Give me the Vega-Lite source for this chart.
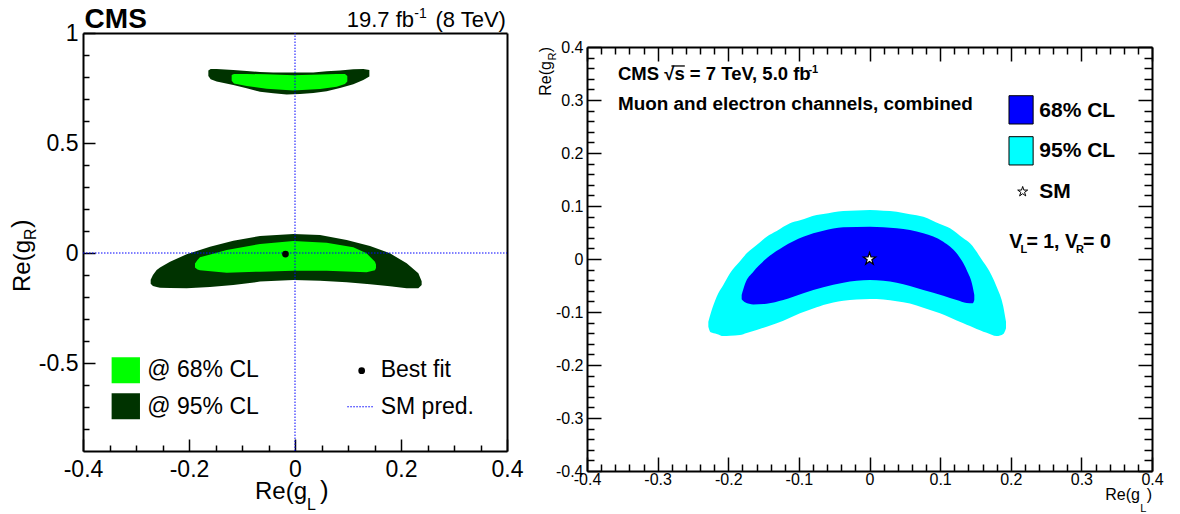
{
"$schema": "https://vega.github.io/schema/vega-lite/v6.json",
"width": 1180, "height": 514, "autosize": "none", "padding": 0, "background": "white",
"config": {"view": {"stroke": null}, "axis": {"grid": false, "labelFlush": false, "labelOverlap": false, "domainColor": "black", "tickColor": "black", "labelColor": "black", "labelFont": "Liberation Sans", "title": null, "zindex": 1}},
"data": {"values": [{}]},
"datasets": {
"left": [
{"r":"u95","x":-0.1635,"lo":0.804,"hi":0.829},{"r":"u95","x":-0.1591,"lo":0.790,"hi":0.836},{"r":"u95","x":-0.1478,"lo":0.779,"hi":0.836},{"r":"u95","x":-0.1164,"lo":0.764,"hi":0.832},{"r":"u95","x":-0.0912,"lo":0.749,"hi":0.827},{"r":"u95","x":-0.066,"lo":0.733,"hi":0.823},{"r":"u95","x":-0.0409,"lo":0.726,"hi":0.821},{"r":"u95","x":-0.0157,"lo":0.721,"hi":0.820},{"r":"u95","x":0.0094,"lo":0.723,"hi":0.820},{"r":"u95","x":0.0346,"lo":0.727,"hi":0.821},{"r":"u95","x":0.0597,"lo":0.735,"hi":0.826},{"r":"u95","x":0.0849,"lo":0.750,"hi":0.830},{"r":"u95","x":0.11,"lo":0.767,"hi":0.835},{"r":"u95","x":0.1289,"lo":0.786,"hi":0.836},{"r":"u95","x":0.1403,"lo":0.802,"hi":0.832},
{"r":"u68","x":-0.1195,"lo":0.783,"hi":0.809},{"r":"u68","x":-0.1151,"lo":0.771,"hi":0.814},{"r":"u68","x":-0.0912,"lo":0.759,"hi":0.814},{"r":"u68","x":-0.0535,"lo":0.747,"hi":0.812},{"r":"u68","x":-0.0031,"lo":0.739,"hi":0.808},{"r":"u68","x":0.0472,"lo":0.746,"hi":0.811},{"r":"u68","x":0.0786,"lo":0.756,"hi":0.814},{"r":"u68","x":0.0943,"lo":0.768,"hi":0.814},{"r":"u68","x":0.0987,"lo":0.779,"hi":0.805},
{"r":"l95","x":-0.2723,"lo":-0.140,"hi":-0.122},{"r":"l95","x":-0.268,"lo":-0.150,"hi":-0.100},{"r":"l95","x":-0.261,"lo":-0.155,"hi":-0.0773},{"r":"l95","x":-0.2547,"lo":-0.1576,"hi":-0.066},{"r":"l95","x":-0.2358,"lo":-0.159,"hi":-0.0394},{"r":"l95","x":-0.2044,"lo":-0.160,"hi":-0.006},{"r":"l95","x":-0.1604,"lo":-0.155,"hi":0.0288},{"r":"l95","x":-0.1164,"lo":-0.146,"hi":0.056},{"r":"l95","x":-0.066,"lo":-0.130,"hi":0.0773},{"r":"l95","x":-0.0031,"lo":-0.1227,"hi":0.0864},{"r":"l95","x":0.0472,"lo":-0.126,"hi":0.0818},{"r":"l95","x":0.0975,"lo":-0.133,"hi":0.0591},{"r":"l95","x":0.1415,"lo":-0.142,"hi":0.0318},{"r":"l95","x":0.1792,"lo":-0.151,"hi":-0.0015},{"r":"l95","x":0.2107,"lo":-0.160,"hi":-0.047},{"r":"l95","x":0.2327,"lo":-0.160,"hi":-0.0924},{"r":"l95","x":0.239,"lo":-0.145,"hi":-0.128},
{"r":"l68","x":-0.1887,"lo":-0.066,"hi":-0.048},{"r":"l68","x":-0.184,"lo":-0.075,"hi":-0.032},{"r":"l68","x":-0.1793,"lo":-0.078,"hi":-0.0197},{"r":"l68","x":-0.1289,"lo":-0.0894,"hi":0.0136},{"r":"l68","x":-0.066,"lo":-0.0848,"hi":0.0409},{"r":"l68","x":-0.0031,"lo":-0.0803,"hi":0.0545},{"r":"l68","x":0.0597,"lo":-0.0803,"hi":0.047},{"r":"l68","x":0.11,"lo":-0.085,"hi":0.0258},{"r":"l68","x":0.135,"lo":-0.088,"hi":-0.0015},{"r":"l68","x":0.1509,"lo":-0.078,"hi":-0.0394},{"r":"l68","x":0.1528,"lo":-0.068,"hi":-0.052}
],
"right": [
{"r":"r95","x":-0.2282,"lo":-0.1277,"hi":-0.1183},{"r":"r95","x":-0.2249,"lo":-0.1384,"hi":-0.1028},{"r":"r95","x":-0.2164,"lo":-0.1413,"hi":-0.0711},{"r":"r95","x":-0.207,"lo":-0.1453,"hi":-0.0491},{"r":"r95","x":-0.1975,"lo":-0.1447,"hi":-0.027},{"r":"r95","x":-0.1834,"lo":-0.1434,"hi":-0.0044},{"r":"r95","x":-0.1739,"lo":-0.1396,"hi":0.0107},{"r":"r95","x":-0.1598,"lo":-0.134,"hi":0.0264},{"r":"r95","x":-0.1456,"lo":-0.1277,"hi":0.0421},{"r":"r95","x":-0.1314,"lo":-0.1214,"hi":0.0528},{"r":"r95","x":-0.1126,"lo":-0.1107,"hi":0.0673},{"r":"r95","x":-0.0984,"lo":-0.1025,"hi":0.073},{"r":"r95","x":-0.0748,"lo":-0.0912,"hi":0.083},{"r":"r95","x":-0.0654,"lo":-0.0868,"hi":0.0849},{"r":"r95","x":-0.0371,"lo":-0.0786,"hi":0.0906},{"r":"r95","x":-0.0182,"lo":-0.0764,"hi":0.0915},{"r":"r95","x":0.0007,"lo":-0.0755,"hi":0.0925},{"r":"r95","x":0.0196,"lo":-0.0764,"hi":0.0909},{"r":"r95","x":0.0385,"lo":-0.0796,"hi":0.0893},{"r":"r95","x":0.0573,"lo":-0.0841,"hi":0.0846},{"r":"r95","x":0.0762,"lo":-0.0918,"hi":0.0799},{"r":"r95","x":0.0998,"lo":-0.1025,"hi":0.066},{"r":"r95","x":0.114,"lo":-0.1106,"hi":0.0579},{"r":"r95","x":0.1329,"lo":-0.1214,"hi":0.039},{"r":"r95","x":0.1423,"lo":-0.1266,"hi":0.0296},{"r":"r95","x":0.1612,"lo":-0.1371,"hi":-0.0057},{"r":"r95","x":0.1659,"lo":-0.139,"hi":-0.0145},{"r":"r95","x":0.18,"lo":-0.1453,"hi":-0.0522},{"r":"r95","x":0.1895,"lo":-0.1415,"hi":-0.0899},{"r":"r95","x":0.1933,"lo":-0.1308,"hi":-0.1183},
{"r":"r68","x":-0.181,"lo":-0.0761,"hi":-0.0679},{"r":"r68","x":-0.1763,"lo":-0.0818,"hi":-0.0472},{"r":"r68","x":-0.1645,"lo":-0.0857,"hi":-0.024},{"r":"r68","x":-0.1456,"lo":-0.0843,"hi":0.0013},{"r":"r68","x":-0.122,"lo":-0.0774,"hi":0.0233},{"r":"r68","x":-0.0937,"lo":-0.0648,"hi":0.0421},{"r":"r68","x":-0.0654,"lo":-0.0535,"hi":0.0535},{"r":"r68","x":-0.0371,"lo":-0.0447,"hi":0.0597},{"r":"r68","x":0.0007,"lo":-0.0396,"hi":0.061},{"r":"r68","x":0.0385,"lo":-0.0447,"hi":0.0579},{"r":"r68","x":0.0762,"lo":-0.0585,"hi":0.0484},{"r":"r68","x":0.1045,"lo":-0.0692,"hi":0.0327},{"r":"r68","x":0.1234,"lo":-0.0774,"hi":0.0107},{"r":"r68","x":0.1376,"lo":-0.083,"hi":-0.0208},{"r":"r68","x":0.1461,"lo":-0.0837,"hi":-0.0522},{"r":"r68","x":0.1484,"lo":-0.0774,"hi":-0.0679}
]
},
"resolve": {"scale": {"x": "independent", "y": "independent"}, "axis": {"x": "independent", "y": "independent"}},
"layer": [
{
"resolve": {"axis": {"x": "independent", "y": "independent"}},
"layer": [
{"mark": {"type": "point", "opacity": 0},
 "encoding": {
  "x": {"datum": 0, "type": "quantitative", "scale": {"domain": [-0.4, 0.4], "range": [83, 507], "nice": false, "zero": false},
    "axis": {"orient": "bottom", "offset": -63, "values": [-0.4, -0.2, 0, 0.2, 0.4], "tickSize": -12, "tickWidth": 1.5, "labelPadding": 19, "labelFontSize": 23, "domainWidth": 2, "labelExpr": "(datum.value < 0 ? '-' : '') + format(abs(datum.value), '~g')"}},
  "y": {"datum": 0, "type": "quantitative", "scale": {"domain": [-0.9, 1], "range": [451, 33], "nice": false, "zero": false},
    "axis": {"orient": "left", "offset": -83, "values": [-0.5, 0, 0.5, 1], "tickSize": -12, "tickWidth": 1.5, "labelPadding": 17, "labelFontSize": 23, "domainWidth": 2, "labelExpr": "(datum.value < 0 ? '-' : '') + format(abs(datum.value), '~g')"}}}},
{"mark": {"type": "point", "opacity": 0},
 "encoding": {
  "x": {"datum": 0, "type": "quantitative", "axis": {"orient": "bottom", "offset": -63, "values": [-0.35, -0.3, -0.25, -0.15, -0.1, -0.05, 0.05, 0.1, 0.15, 0.25, 0.3, 0.35], "tickSize": -6, "tickWidth": 1.5, "labels": false, "domain": false}},
  "y": {"datum": 0, "type": "quantitative", "axis": {"orient": "left", "offset": -83, "values": [-0.8, -0.7, -0.6, -0.4, -0.3, -0.2, -0.1, 0.1, 0.2, 0.3, 0.4, 0.6, 0.7, 0.8, 0.9], "tickSize": -6, "tickWidth": 1.5, "labels": false, "domain": false}}}},
{"mark": {"type": "point", "opacity": 0},
 "encoding": {
  "x": {"datum": 0, "type": "quantitative", "axis": {"orient": "top", "offset": -33, "ticks": false, "labels": false, "domainWidth": 2}},
  "y": {"datum": 0, "type": "quantitative", "axis": {"orient": "right", "offset": -673, "ticks": false, "labels": false, "domainWidth": 2}}}},
{"data": {"name": "left"}, "transform": [{"filter": "datum.r == 'u95'"}], "mark": {"type": "area", "color": "#003300", "opacity": 1},
 "encoding": {"x": {"field": "x", "type": "quantitative", "axis": null}, "y": {"field": "lo", "type": "quantitative", "axis": null, "stack": null}, "y2": {"field": "hi"}}},
{"data": {"name": "left"}, "transform": [{"filter": "datum.r == 'l95'"}], "mark": {"type": "area", "color": "#003300", "opacity": 1},
 "encoding": {"x": {"field": "x", "type": "quantitative", "axis": null}, "y": {"field": "lo", "type": "quantitative", "axis": null, "stack": null}, "y2": {"field": "hi"}}},
{"data": {"name": "left"}, "transform": [{"filter": "datum.r == 'u68'"}], "mark": {"type": "area", "color": "#00ff00", "opacity": 1},
 "encoding": {"x": {"field": "x", "type": "quantitative", "axis": null}, "y": {"field": "lo", "type": "quantitative", "axis": null, "stack": null}, "y2": {"field": "hi"}}},
{"data": {"name": "left"}, "transform": [{"filter": "datum.r == 'l68'"}], "mark": {"type": "area", "color": "#00ff00", "opacity": 1},
 "encoding": {"x": {"field": "x", "type": "quantitative", "axis": null}, "y": {"field": "lo", "type": "quantitative", "axis": null, "stack": null}, "y2": {"field": "hi"}}},
{"mark": {"type": "rule", "color": "#0000ff", "strokeDash": [1.5, 1.5], "strokeWidth": 1},
 "encoding": {"x": {"datum": 0, "axis": null}, "y": {"datum": -0.9, "axis": null}, "y2": {"datum": 1}}},
{"mark": {"type": "rule", "color": "#0000ff", "strokeDash": [1.5, 1.5], "strokeWidth": 1},
 "encoding": {"y": {"datum": 0, "axis": null}, "x": {"datum": -0.4, "axis": null}, "x2": {"datum": 0.4}}},
{"mark": {"type": "point", "filled": true, "color": "black", "opacity": 1, "size": 45},
 "encoding": {"x": {"datum": -0.018, "axis": null}, "y": {"datum": -0.005, "axis": null}}},
{"mark": {"type": "rect", "color": "#00ff00"},
 "encoding": {"x": {"datum": -0.346, "axis": null}, "x2": {"datum": -0.2925}, "y": {"datum": -0.474, "axis": null}, "y2": {"datum": -0.592}}},
{"mark": {"type": "rect", "color": "#003300"},
 "encoding": {"x": {"datum": -0.346, "axis": null}, "x2": {"datum": -0.2925}, "y": {"datum": -0.638, "axis": null}, "y2": {"datum": -0.756}}},
{"mark": {"type": "text", "font": "Liberation Sans", "fontSize": 23, "align": "left", "baseline": "middle", "color": "black"},
 "encoding": {"x": {"datum": -0.2787, "axis": null}, "y": {"datum": -0.532, "axis": null}, "text": {"value": "@ 68% CL"}}},
{"mark": {"type": "text", "font": "Liberation Sans", "fontSize": 23, "align": "left", "baseline": "middle", "color": "black"},
 "encoding": {"x": {"datum": -0.2787, "axis": null}, "y": {"datum": -0.699, "axis": null}, "text": {"value": "@ 95% CL"}}},
{"mark": {"type": "point", "filled": true, "color": "black", "opacity": 1, "size": 45},
 "encoding": {"x": {"datum": 0.1258, "axis": null}, "y": {"datum": -0.535, "axis": null}}},
{"mark": {"type": "rule", "color": "#0000ff", "strokeDash": [1.5, 1.5], "strokeWidth": 1},
 "encoding": {"y": {"datum": -0.699, "axis": null}, "x": {"datum": 0.0987, "axis": null}, "x2": {"datum": 0.149}}},
{"mark": {"type": "text", "font": "Liberation Sans", "fontSize": 23, "align": "left", "baseline": "middle", "color": "black"},
 "encoding": {"x": {"datum": 0.1617, "axis": null}, "y": {"datum": -0.532, "axis": null}, "text": {"value": "Best fit"}}},
{"mark": {"type": "text", "font": "Liberation Sans", "fontSize": 23, "align": "left", "baseline": "middle", "color": "black"},
 "encoding": {"x": {"datum": 0.1617, "axis": null}, "y": {"datum": -0.699, "axis": null}, "text": {"value": "SM pred."}}},
{"mark": {"type": "text", "font": "Liberation Sans", "fontSize": 28, "fontWeight": "bold", "align": "left", "baseline": "alphabetic", "color": "black"},
 "encoding": {"x": {"datum": -0.397, "axis": null}, "y": {"datum": 1.0214, "axis": null}, "text": {"value": "CMS"}}},
{"mark": {"type": "text", "font": "Liberation Sans", "fontSize": 22, "align": "right", "baseline": "alphabetic", "color": "black"},
 "encoding": {"x": {"datum": 0.398, "axis": null}, "y": {"datum": 1.027, "axis": null}, "text": {"value": "(8 TeV)"}}},
{"mark": {"type": "text", "font": "Liberation Sans", "fontSize": 14, "align": "right", "baseline": "alphabetic", "color": "black"},
 "encoding": {"x": {"datum": 0.2485, "axis": null}, "y": {"datum": 1.068, "axis": null}, "text": {"value": "-1"}}},
{"mark": {"type": "text", "font": "Liberation Sans", "fontSize": 22, "align": "right", "baseline": "alphabetic", "color": "black"},
 "encoding": {"x": {"datum": 0.2245, "axis": null}, "y": {"datum": 1.027, "axis": null}, "text": {"value": "19.7 fb"}}},
{"mark": {"type": "text", "font": "Liberation Sans", "fontSize": 24, "align": "left", "baseline": "alphabetic", "color": "black"},
 "encoding": {"x": {"datum": -0.0755, "axis": null}, "y": {"datum": -1.1182, "axis": null}, "text": {"value": "Re(g"}}},
{"mark": {"type": "text", "font": "Liberation Sans", "fontSize": 16, "align": "left", "baseline": "alphabetic", "color": "black"},
 "encoding": {"x": {"datum": 0.0226, "axis": null}, "y": {"datum": -1.1682, "axis": null}, "text": {"value": "L"}}},
{"mark": {"type": "text", "font": "Liberation Sans", "fontSize": 26, "align": "left", "baseline": "alphabetic", "color": "black"},
 "encoding": {"x": {"datum": 0.0472, "axis": null}, "y": {"datum": -1.1182, "axis": null}, "text": {"value": ")"}}},
{"mark": {"type": "text", "font": "Liberation Sans", "fontSize": 24, "align": "left", "baseline": "alphabetic", "angle": 270, "color": "black"},
 "encoding": {"x": {"datum": -0.5, "axis": null}, "y": {"datum": -0.1773, "axis": null}, "text": {"value": "Re(g"}}},
{"mark": {"type": "text", "font": "Liberation Sans", "fontSize": 16, "align": "left", "baseline": "alphabetic", "angle": 270, "dy": 6, "color": "black"},
 "encoding": {"x": {"datum": -0.5, "axis": null}, "y": {"datum": 0.0591, "axis": null}, "text": {"value": "R"}}},
{"mark": {"type": "text", "font": "Liberation Sans", "fontSize": 26, "align": "left", "baseline": "alphabetic", "angle": 270, "color": "black"},
 "encoding": {"x": {"datum": -0.5, "axis": null}, "y": {"datum": 0.1136, "axis": null}, "text": {"value": ")"}}}
]
},
{
"resolve": {"axis": {"x": "independent", "y": "independent"}},
"layer": [
{"mark": {"type": "point", "opacity": 0},
 "encoding": {
  "x": {"datum": 0, "type": "quantitative", "scale": {"domain": [-0.4, 0.4], "range": [587, 1152], "nice": false, "zero": false},
    "axis": {"orient": "bottom", "offset": -43, "values": [-0.4, -0.3, -0.2, -0.1, 0, 0.1, 0.2, 0.3, 0.4], "tickSize": -14, "tickWidth": 1.5, "labelPadding": 14, "labelFontSize": 16, "domainWidth": 2, "labelExpr": "(datum.value < 0 ? '-' : '') + format(abs(datum.value), '~g')"}},
  "y": {"datum": 0, "type": "quantitative", "scale": {"domain": [-0.4, 0.4], "range": [471, 47], "nice": false, "zero": false},
    "axis": {"orient": "left", "offset": -587, "values": [-0.4, -0.3, -0.2, -0.1, 0, 0.1, 0.2, 0.3, 0.4], "tickSize": -14, "tickWidth": 1.5, "labelPadding": 18, "labelFontSize": 16, "domainWidth": 2, "labelExpr": "(datum.value < 0 ? '-' : '') + format(abs(datum.value), '~g')"}}}},
{"mark": {"type": "point", "opacity": 0},
 "encoding": {
  "x": {"datum": 0, "type": "quantitative", "axis": {"orient": "bottom", "offset": -43, "values": [-0.38,-0.36,-0.34,-0.32,-0.28,-0.26,-0.24,-0.22,-0.18,-0.16,-0.14,-0.12,-0.08,-0.06,-0.04,-0.02,0.02,0.04,0.06,0.08,0.12,0.14,0.16,0.18,0.22,0.24,0.26,0.28,0.32,0.34,0.36,0.38], "tickSize": -7, "tickWidth": 1.5, "labels": false, "domain": false}},
  "y": {"datum": 0, "type": "quantitative", "axis": {"orient": "left", "offset": -587, "values": [-0.38,-0.36,-0.34,-0.32,-0.28,-0.26,-0.24,-0.22,-0.18,-0.16,-0.14,-0.12,-0.08,-0.06,-0.04,-0.02,0.02,0.04,0.06,0.08,0.12,0.14,0.16,0.18,0.22,0.24,0.26,0.28,0.32,0.34,0.36,0.38], "tickSize": -7, "tickWidth": 1.5, "labels": false, "domain": false}}}},
{"mark": {"type": "point", "opacity": 0},
 "encoding": {
  "x": {"datum": 0, "type": "quantitative", "axis": {"orient": "top", "offset": -47, "values": [-0.4, -0.3, -0.2, -0.1, 0, 0.1, 0.2, 0.3, 0.4], "tickSize": -14, "tickWidth": 1.5, "labels": false, "domainWidth": 2}},
  "y": {"datum": 0, "type": "quantitative", "axis": {"orient": "right", "offset": -28, "values": [-0.4, -0.3, -0.2, -0.1, 0, 0.1, 0.2, 0.3, 0.4], "tickSize": -14, "tickWidth": 1.5, "labels": false, "domainWidth": 2}}}},
{"mark": {"type": "point", "opacity": 0},
 "encoding": {
  "x": {"datum": 0, "type": "quantitative", "axis": {"orient": "top", "offset": -47, "values": [-0.38,-0.36,-0.34,-0.32,-0.28,-0.26,-0.24,-0.22,-0.18,-0.16,-0.14,-0.12,-0.08,-0.06,-0.04,-0.02,0.02,0.04,0.06,0.08,0.12,0.14,0.16,0.18,0.22,0.24,0.26,0.28,0.32,0.34,0.36,0.38], "tickSize": -7, "tickWidth": 1.5, "labels": false, "domain": false}},
  "y": {"datum": 0, "type": "quantitative", "axis": {"orient": "right", "offset": -28, "values": [-0.38,-0.36,-0.34,-0.32,-0.28,-0.26,-0.24,-0.22,-0.18,-0.16,-0.14,-0.12,-0.08,-0.06,-0.04,-0.02,0.02,0.04,0.06,0.08,0.12,0.14,0.16,0.18,0.22,0.24,0.26,0.28,0.32,0.34,0.36,0.38], "tickSize": -8, "tickWidth": 1.5, "labels": false, "domain": false}}}},
{"data": {"name": "right"}, "transform": [{"filter": "datum.r == 'r95'"}], "mark": {"type": "area", "color": "#00ffff", "opacity": 1, "interpolate": "monotone"},
 "encoding": {"x": {"field": "x", "type": "quantitative", "axis": null}, "y": {"field": "lo", "type": "quantitative", "axis": null, "stack": null}, "y2": {"field": "hi"}}},
{"data": {"name": "right"}, "transform": [{"filter": "datum.r == 'r68'"}], "mark": {"type": "area", "color": "#0000ff", "opacity": 1, "interpolate": "monotone"},
 "encoding": {"x": {"field": "x", "type": "quantitative", "axis": null}, "y": {"field": "lo", "type": "quantitative", "axis": null, "stack": null}, "y2": {"field": "hi"}}},
{"mark": {"type": "point", "shape": "M0,-1L0.2245,-0.309L0.951,-0.309L0.363,0.118L0.588,0.809L0,0.382L-0.588,0.809L-0.363,0.118L-0.951,-0.309L-0.2245,-0.309Z", "filled": true, "fill": "white", "stroke": "black", "strokeWidth": 1.2, "opacity": 1, "size": 169},
 "encoding": {"x": {"datum": 0, "axis": null}, "y": {"datum": 0, "axis": null}}},
{"mark": {"type": "text", "font": "Liberation Sans", "fontSize": 18.5, "fontWeight": "bold", "align": "left", "baseline": "alphabetic", "color": "black"},
 "encoding": {"x": {"datum": -0.3561, "axis": null}, "y": {"datum": 0.3377, "axis": null}, "text": {"value": "CMS √s = 7 TeV, 5.0 fb"}}},
{"mark": {"type": "rule", "color": "black", "strokeWidth": 1.3},
 "encoding": {"y": {"datum": 0.3642, "axis": null}, "x": {"datum": -0.2805, "axis": null}, "x2": {"datum": -0.2615}}},
{"mark": {"type": "text", "font": "Liberation Sans", "fontSize": 11, "fontWeight": "bold", "align": "left", "baseline": "alphabetic", "color": "black"},
 "encoding": {"x": {"datum": -0.0865, "axis": null}, "y": {"datum": 0.351, "axis": null}, "text": {"value": "-1"}}},
{"mark": {"type": "text", "font": "Liberation Sans", "fontSize": 18.9, "fontWeight": "bold", "align": "left", "baseline": "alphabetic", "color": "black"},
 "encoding": {"x": {"datum": -0.3561, "axis": null}, "y": {"datum": 0.2811, "axis": null}, "text": {"value": "Muon and electron channels, combined"}}},
{"mark": {"type": "rect", "color": "#0000ff", "stroke": "black", "strokeWidth": 1},
 "encoding": {"x": {"datum": 0.1975, "axis": null}, "x2": {"datum": 0.2317}, "y": {"datum": 0.3081, "axis": null}, "y2": {"datum": 0.2547}}},
{"mark": {"type": "rect", "color": "#00ffff", "stroke": "black", "strokeWidth": 1},
 "encoding": {"x": {"datum": 0.1975, "axis": null}, "x2": {"datum": 0.2317}, "y": {"datum": 0.2308, "axis": null}, "y2": {"datum": 0.1774}}},
{"mark": {"type": "text", "font": "Liberation Sans", "fontSize": 21, "fontWeight": "bold", "align": "left", "baseline": "middle", "color": "black"},
 "encoding": {"x": {"datum": 0.2404, "axis": null}, "y": {"datum": 0.2798, "axis": null}, "text": {"value": "68% CL"}}},
{"mark": {"type": "text", "font": "Liberation Sans", "fontSize": 21, "fontWeight": "bold", "align": "left", "baseline": "middle", "color": "black"},
 "encoding": {"x": {"datum": 0.2404, "axis": null}, "y": {"datum": 0.2043, "axis": null}, "text": {"value": "95% CL"}}},
{"mark": {"type": "point", "shape": "M0,-1L0.2245,-0.309L0.951,-0.309L0.363,0.118L0.588,0.809L0,0.382L-0.588,0.809L-0.363,0.118L-0.951,-0.309L-0.2245,-0.309Z", "filled": true, "fill": "white", "stroke": "black", "strokeWidth": 1, "opacity": 1, "size": 110},
 "encoding": {"x": {"datum": 0.2169, "axis": null}, "y": {"datum": 0.127, "axis": null}}},
{"mark": {"type": "text", "font": "Liberation Sans", "fontSize": 21, "fontWeight": "bold", "align": "left", "baseline": "middle", "color": "black"},
 "encoding": {"x": {"datum": 0.2404, "axis": null}, "y": {"datum": 0.127, "axis": null}, "text": {"value": "SM"}}},
{"mark": {"type": "text", "font": "Liberation Sans", "fontSize": 19.5, "fontWeight": "bold", "align": "left", "baseline": "alphabetic", "color": "black"},
 "encoding": {"x": {"datum": 0.198, "axis": null}, "y": {"datum": 0.0202, "axis": null}, "text": {"value": "V"}}},
{"mark": {"type": "text", "font": "Liberation Sans", "fontSize": 11, "fontWeight": "bold", "align": "left", "baseline": "alphabetic", "color": "black"},
 "encoding": {"x": {"datum": 0.2138, "axis": null}, "y": {"datum": 0.0113, "axis": null}, "text": {"value": "L"}}},
{"mark": {"type": "text", "font": "Liberation Sans", "fontSize": 19.5, "fontWeight": "bold", "align": "left", "baseline": "alphabetic", "color": "black"},
 "encoding": {"x": {"datum": 0.2222, "axis": null}, "y": {"datum": 0.0202, "axis": null}, "text": {"value": "= 1, V"}}},
{"mark": {"type": "text", "font": "Liberation Sans", "fontSize": 11, "fontWeight": "bold", "align": "left", "baseline": "alphabetic", "color": "black"},
 "encoding": {"x": {"datum": 0.2925, "axis": null}, "y": {"datum": 0.0113, "axis": null}, "text": {"value": "R"}}},
{"mark": {"type": "text", "font": "Liberation Sans", "fontSize": 19.5, "fontWeight": "bold", "align": "left", "baseline": "alphabetic", "color": "black"},
 "encoding": {"x": {"datum": 0.3024, "axis": null}, "y": {"datum": 0.0202, "axis": null}, "text": {"value": "= 0"}}},
{"mark": {"type": "text", "font": "Liberation Sans", "fontSize": 16, "align": "right", "baseline": "alphabetic", "color": "black"},
 "encoding": {"x": {"datum": 0.4, "axis": null}, "y": {"datum": -0.4547, "axis": null}, "text": {"value": ")"}}},
{"mark": {"type": "text", "font": "Liberation Sans", "fontSize": 11, "align": "right", "baseline": "alphabetic", "color": "black"},
 "encoding": {"x": {"datum": 0.3922, "axis": null}, "y": {"datum": -0.4774, "axis": null}, "text": {"value": "L"}}},
{"mark": {"type": "text", "font": "Liberation Sans", "fontSize": 16, "align": "right", "baseline": "alphabetic", "color": "black"},
 "encoding": {"x": {"datum": 0.383, "axis": null}, "y": {"datum": -0.4547, "axis": null}, "text": {"value": "Re(g"}}},
{"mark": {"type": "text", "font": "Liberation Sans", "fontSize": 16, "align": "right", "baseline": "alphabetic", "angle": 270, "color": "black"},
 "encoding": {"x": {"datum": -0.451, "axis": null}, "y": {"datum": 0.4, "axis": null}, "text": {"value": ")"}}},
{"mark": {"type": "text", "font": "Liberation Sans", "fontSize": 11, "align": "right", "baseline": "alphabetic", "angle": 270, "dx": -5.5, "dy": 5, "color": "black"},
 "encoding": {"x": {"datum": -0.451, "axis": null}, "y": {"datum": 0.4, "axis": null}, "text": {"value": "R"}}},
{"mark": {"type": "text", "font": "Liberation Sans", "fontSize": 16, "align": "right", "baseline": "alphabetic", "angle": 270, "dx": -14, "color": "black"},
 "encoding": {"x": {"datum": -0.451, "axis": null}, "y": {"datum": 0.4, "axis": null}, "text": {"value": "Re(g"}}}
]
}
]
}
